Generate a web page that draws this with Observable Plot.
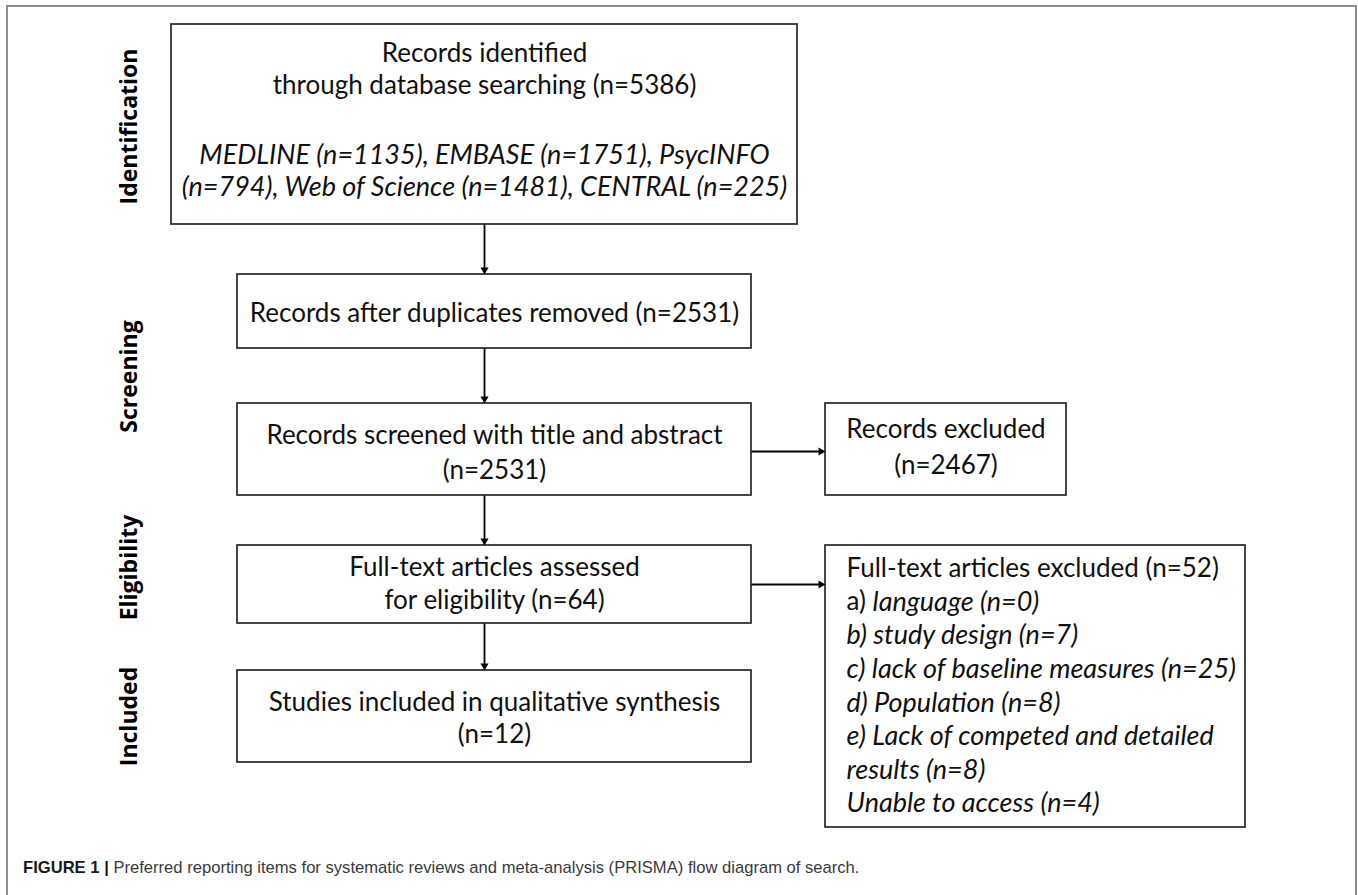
<!DOCTYPE html>
<html>
<head>
<meta charset="utf-8">
<script src="https://cdn.jsdelivr.net/npm/d3@7"></script>
<script src="https://cdn.jsdelivr.net/npm/@observablehq/plot@0.6"></script>
<style>
  html, body { margin: 0; padding: 0; background: #fff; overflow: hidden; }
  #chart svg { display: block; }
  #frame { position: absolute; left: 6px; top: 5px; width: 1347px; height: 980px;
           border: 2px solid #8d8d8d; border-bottom: none; pointer-events: none; }
  #caption { margin: 8px 0 0 23px; font-family: "Liberation Sans", Arial, sans-serif;
             font-size: 16.6px; line-height: 20px; color: #3a3a3a; white-space: nowrap; }
  #caption b { color: #1a1a1a; }
</style>
</head>
<body>
<div id="chart"></div>
<div id="caption"></div>
<div id="frame"></div>
<script>
// ---------------- data ----------------
const stages = ["Identification", "Screening", "Eligibility", "Included"];
const identifiedTotal = 5386;
const databases = ["MEDLINE", "EMBASE", "PsycINFO", "Web of Science", "CENTRAL"];
const databaseCounts = [1135, 1751, 794, 1481, 225];
const afterDuplicates = 2531;
const screenedCount = 2531;
const recordsExcluded = 2467;
const fullTextAssessed = 64;
const fullTextExcluded = 52;
const reasonLabels = ["a)", "b)", "c)", "d)", "e)", ""];
const reasonTexts = ["language", "study design", "lack of baseline measures", "Population",
                     "Lack of competed and detailed results", "Unable to access"];
const reasonCounts = [0, 7, 25, 8, 8, 4];
const includedCount = 12;
const captionLead = "FIGURE 1 |";
const captionText = "Preferred reporting items for systematic reviews and meta-analysis (PRISMA) flow diagram of search.";

// ---------------- layout & style ----------------
const W = 1358, H = 850;
const BOX_FONT = "Lato";
const SIZE_REG = 26;
const SIZE_ITAL = 27;
const STAGE_FONT = "Open Sans";
const STAGE_SIZE = 23;
const layout = {
  stageX: 129,
  stageY: [126, 376, 567, 716],
  spineX: 484,
  box: {
    identified: {x1: 171, x2: 797, y1: 24, y2: 224},
    duplicates: {x1: 237, x2: 751, y1: 274, y2: 348},
    screened:   {x1: 237, x2: 751, y1: 403, y2: 495},
    excluded:   {x1: 825, x2: 1066, y1: 403, y2: 495},
    assessed:   {x1: 237, x2: 751, y1: 545, y2: 623},
    ftExcluded: {x1: 825, x2: 1245, y1: 545, y2: 827},
    included:   {x1: 237, x2: 751, y1: 670, y2: 762}
  },
  lineY: {
    identified: [53, 85, 155, 187],
    duplicates: [313],
    screened: [435, 470],
    excluded: [429, 465],
    assessed: [567, 600],
    included: [702, 734]
  },
  ft: {x: 846, y0: 568, step: 33.6, maxWidth: 412},
  headR: 3
};

// ---------------- build diagram pieces ----------------
const B = layout.box;
const boxes = Object.entries(B).map(([id, b]) => ({id, ...b}));
const cx = b => (b.x1 + b.x2) / 2;
const cy = b => (b.y1 + b.y2) / 2;

const canvas = document.createElement("canvas").getContext("2d");
const measure = (s, italic) => {
  canvas.font = italic ? `italic ${SIZE_ITAL}px ${BOX_FONT}` : `${SIZE_REG}px ${BOX_FONT}`;
  return canvas.measureText(s).width;
};

const lines = [];
function centered(key, texts, italicFrom = 99) {
  texts.forEach((t, i) => lines.push({x: cx(B[key]), y: layout.lineY[key][i], text: t,
    italic: i >= italicFrom, anchor: "middle"}));
}
const dbText = databases.map((d, i) => `${d} (n=${databaseCounts[i]})`).join(", ");
const brk = dbText.indexOf(" (n=" + databaseCounts[2] + ")");
centered("identified", ["Records identified", `through database searching (n=${identifiedTotal})`,
  dbText.slice(0, brk), dbText.slice(brk + 1)], 2);
centered("duplicates", [`Records after duplicates removed (n=${afterDuplicates})`]);
centered("screened", ["Records screened with title and abstract", `(n=${screenedCount})`]);
centered("excluded", ["Records excluded", `(n=${recordsExcluded})`]);
centered("assessed", ["Full-text articles assessed", `for eligibility (n=${fullTextAssessed})`]);
centered("included", ["Studies included in qualitative synthesis", `(n=${includedCount})`]);

// full-text exclusion list (left aligned)
let row = 0;
const ftY = () => layout.ft.y0 + layout.ft.step * row++;
lines.push({x: layout.ft.x, y: ftY(), text: `Full-text articles excluded (n=${fullTextExcluded})`, italic: false, anchor: "start"});
reasonTexts.forEach((r, i) => {
  const label = reasonLabels[i];
  const body = `${r} (n=${reasonCounts[i]})`;
  if (i === 0) {
    const y = ftY();
    lines.push({x: layout.ft.x, y, text: label + " ", italic: false, anchor: "start"});
    lines.push({x: layout.ft.x + measure(label + " ", false), y, text: body, italic: true, anchor: "start"});
    return;
  }
  const full = (label ? label + " " : "") + body;
  const words = full.split(" ");
  let cur = "";
  const wrapped = [];
  for (const w of words) {
    const test = cur ? cur + " " + w : w;
    if (measure(test, true) > layout.ft.maxWidth && cur) { wrapped.push(cur); cur = w; }
    else cur = test;
  }
  wrapped.push(cur);
  wrapped.forEach(t => lines.push({x: layout.ft.x, y: ftY(), text: t, italic: true, anchor: "start"}));
});

// arrows
const headLen = 7, tipOff = 2 * Math.sqrt((Math.PI * layout.headR ** 2) / (Math.sqrt(3) * 3));
const chain = ["identified", "duplicates", "screened", "assessed", "included"];
const arrows = [];
for (let i = 0; i < chain.length - 1; i++) {
  const a = B[chain[i]], b = B[chain[i + 1]];
  arrows.push({x1: layout.spineX, y1: a.y2, x2: layout.spineX, y2: b.y1, dir: "down"});
}
arrows.push({x1: B.screened.x2, y1: cy(B.screened) + 2, x2: B.excluded.x1, y2: cy(B.screened) + 2, dir: "right"});
arrows.push({x1: B.assessed.x2, y1: cy(B.assessed), x2: B.ftExcluded.x1, y2: cy(B.assessed), dir: "right"});
arrows.forEach(a => {
  if (a.dir === "down") { a.sx2 = a.x2; a.sy2 = a.y2 - headLen + 1; a.hx = a.x2; a.hy = a.y2 - tipOff; a.rot = 180; }
  else { a.sx2 = a.x2 - headLen + 1; a.sy2 = a.y2; a.hx = a.x2 - tipOff; a.hy = a.y2; a.rot = 90; }
});

const stageRows = stages.map((s, i) => ({label: s, x: layout.stageX, y: layout.stageY[i]}));

const textMark = (data, italic, anchor) => Plot.text(data.filter(d => d.italic === italic && d.anchor === anchor), {
  x: "x", y: "y", text: "text", textAnchor: anchor, lineAnchor: "middle",
  fontFamily: BOX_FONT, fontSize: italic ? SIZE_ITAL : SIZE_REG, fontStyle: italic ? "italic" : "normal", fill: "#111"
});

const chart = Plot.plot({
  width: W, height: H, margin: 0,
  style: {background: "transparent", overflow: "visible"},
  x: {domain: [0, W], range: [0, W], axis: null},
  y: {domain: [0, H], range: [0, H], axis: null},
  marks: [
    Plot.rect(boxes, {x1: "x1", x2: "x2", y1: "y1", y2: "y2", fill: "white", stroke: "#262626", strokeWidth: 1.7}),
    Plot.link(arrows, {x1: "x1", y1: "y1", x2: "sx2", y2: "sy2", stroke: "#000", strokeWidth: 1.8}),
    Plot.dot(arrows, {x: "hx", y: "hy", symbol: "triangle", r: layout.headR, fill: "#000", stroke: "none", rotate: "rot"}),
    Plot.text(stageRows, {x: "x", y: "y", text: "label", rotate: -90, fontFamily: STAGE_FONT,
      fontWeight: "bold", fontSize: STAGE_SIZE, fill: "#000"}),
    textMark(lines, false, "middle"),
    textMark(lines, true, "middle"),
    textMark(lines, false, "start"),
    textMark(lines, true, "start")
  ]
});
document.getElementById("chart").appendChild(chart);

const cap = document.getElementById("caption");
const b = document.createElement("b");
b.textContent = captionLead;
cap.appendChild(b);
cap.appendChild(document.createTextNode(" " + captionText));
</script>
</body>
</html>
